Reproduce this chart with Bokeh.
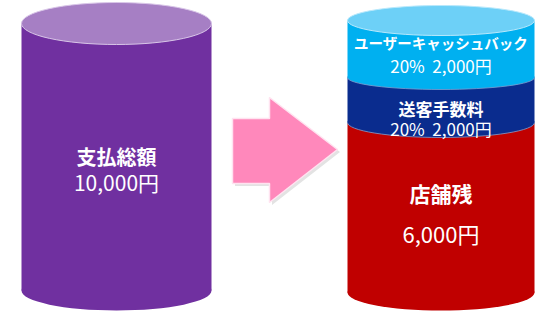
from bokeh.plotting import figure
from bokeh.models import Range1d
from bokeh.core.properties import value
from bokeh.embed import file_html
from bokeh.resources import INLINE

# ---- data ----
total_label = "支払総額"
total_value = 10000
seg_labels = ["ユーザーキャッシュバック", "送客手数料", "店舗残"]
seg_pcts = [20, 20, None]
seg_values = [2000, 2000, 6000]

# ---- layout (page pixel space) ----
W, H = 537, 311
FONT = value("Noto Sans CJK JP")

p = figure(width=W, height=H, output_backend="svg", toolbar_location=None,
           x_range=Range1d(0, W), y_range=Range1d(H, 0), min_border=0)
p.axis.visible = False
p.grid.visible = False
p.outline_line_color = None
p.background_fill_color = "white"
p.border_fill_color = "white"

# left cylinder (total)
lx, lw = 116, 190
ltop, lbot = 23, 290
p.ellipse(x=[lx], y=[lbot], width=[lw], height=[40], fill_color="#7030A0", line_color=None)
p.quad(left=[lx - lw / 2], right=[lx + lw / 2], top=[ltop], bottom=[lbot], fill_color="#7030A0", line_color=None)
p.ellipse(x=[lx], y=[ltop], width=[lw], height=[42], fill_color="#A67FC4", line_color="#D9C6E8", line_width=1)

p.text(x=[lx], y=[156], text=[total_label], text_font=FONT, text_font_style="bold",
       text_font_size="20px", text_color="white", text_align="center", text_baseline="middle")
p.text(x=[lx], y=[181], text=[f"{total_value:,}円"], text_font=FONT,
       text_font_size="21px", text_color="white", text_align="center", text_baseline="middle")

# arrow
ax = [232, 269, 269, 337, 269, 269, 232]
ay = [118, 118, 97, 149, 202, 183, 183]
p.patch(x=[v + 2.5 for v in ax], y=[v + 2.5 for v in ay], fill_color="#808080", fill_alpha=0.22, line_color=None)
p.patch(x=ax, y=ay, fill_color="#FF88BB", line_color="#FFE3F0", line_width=1.5)

# right cylinder (breakdown), drawn bottom to top
rx, rw = 440.5, 187
bounds = [20, 77, 122, 292]          # top of cyan, cyan/blue, blue/red, bottom
ell_h = [24, 30, 36]                  # height of lower ellipse of each segment
colors = ["#00B0F0", "#0A2C8E", "#C00000"]
top_color = "#6DD0F7"

for i in [2, 1, 0]:
    t, b = bounds[i], bounds[i + 1]
    p.ellipse(x=[rx], y=[b], width=[rw], height=[ell_h[i]], fill_color=colors[i],
              line_color=None if i == 2 else "#7F9FD0", line_width=0.8)
    p.quad(left=[rx - rw / 2], right=[rx + rw / 2], top=[t], bottom=[b], fill_color=colors[i], line_color=None)
p.ellipse(x=[rx], y=[bounds[0]], width=[rw], height=[30], fill_color=top_color, line_color="#B8E8FB", line_width=1)

# labels
lab_y = [[42, 65], [108, 128], [192, 232]]
sizes = [[14.5, 17], [17, 17], [21, 22]]
for i in range(3):
    p.text(x=[rx], y=[lab_y[i][0]], text=[seg_labels[i]], text_font=FONT, text_font_style="bold",
           text_font_size=f"{sizes[i][0]}px", text_color="white", text_align="center", text_baseline="middle")
    if seg_pcts[i] is not None:
        t2 = f"{seg_pcts[i]}%\u00a0\u00a0{seg_values[i]:,}円"
    else:
        t2 = f"{seg_values[i]:,}円"
    p.text(x=[rx], y=[lab_y[i][1]], text=[t2], text_font=FONT,
           text_font_size=f"{sizes[i][1]}px", text_color="white", text_align="center", text_baseline="middle")

html = file_html(p, INLINE)
html = html.replace("</head>", "<style>html,body{margin:0;padding:0;overflow:hidden}</style></head>", 1)
open("out.html", "w").write(html)
